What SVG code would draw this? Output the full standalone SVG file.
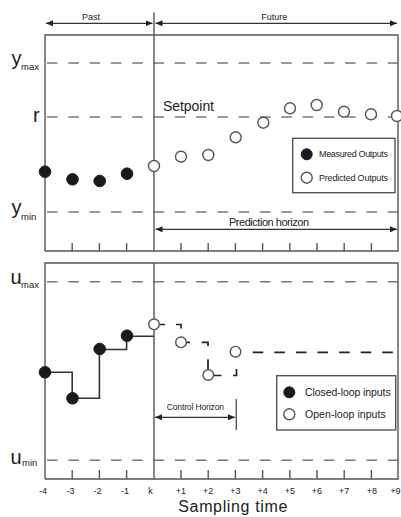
<svg xmlns="http://www.w3.org/2000/svg" width="401" height="517" viewBox="0 0 401 517">
<defs>
<marker id="ah" markerWidth="7" markerHeight="6" refX="7" refY="3" orient="auto-start-reverse" markerUnits="userSpaceOnUse"><path d="M0,0 L7,3 L0,6 z" fill="#222"/></marker>
<style>
.frame{stroke:#555;stroke-width:1.4;fill:none}
.grid{stroke:#777;stroke-width:1.4;stroke-dasharray:10.5 10.8;fill:none}
.arrow{stroke:#333;stroke-width:1.2;fill:none;marker-start:url(#ah);marker-end:url(#ah)}
.tick{stroke:#555;stroke-width:1.4}
.fill{fill:#1a1a1a;stroke:#1a1a1a;stroke-width:1}
.open{fill:#fff;stroke:#555;stroke-width:1.4}
.step{stroke:#333;stroke-width:1.6;fill:none}
.ol{stroke:#222;stroke-width:1.7;fill:none}
text{font-family:"Liberation Sans",Arial,sans-serif;fill:#222}
.big{font-size:20px}
.sub{font-size:9.5px}
.tl{font-size:9px;text-anchor:middle}
.sm{font-size:9px}
.lg{font-size:10.5px}
</style>
</defs>
<g id="top-panel">
<line class="grid" x1="47" y1="63" x2="398" y2="63"/>
<line class="grid" x1="47" y1="117" x2="398" y2="117"/>
<line class="grid" x1="47" y1="212" x2="398" y2="212"/>
<path class="frame" d="M45,251 V35 H398 V251 H45"/>
<line class="frame" x1="154" y1="12.5" x2="154" y2="251"/>
<path class="tick" d="M72.2,243V251M99.4,243V251M126.6,243V251M181,243V251M208.2,243V251M235.4,243V251M262.6,243V251M289.8,243V251M317,243V251M344.2,243V251M371.4,243V251"/>
<text class="big" x="11.5" y="64.5">y</text><text class="sub" x="21" y="70">max</text>
<text class="big" x="33" y="121.5">r</text>
<text class="big" x="11.5" y="213.5">y</text><text class="sub" x="21" y="220">min</text>
<text x="163" y="110.5" style="font-size:14px" textLength="51">Setpoint</text>
</g>
<g id="bottom-panel">
<line class="grid" x1="47" y1="281.7" x2="398" y2="281.7"/>
<line class="grid" x1="47" y1="460.3" x2="398" y2="460.3"/>
<path class="frame" d="M45,479 V263 H398 V479 H45"/>
<line class="frame" x1="154" y1="263" x2="154" y2="479"/>
<path class="tick" d="M72.2,470V479M99.4,470V479M126.6,470V479M181,470V479M208.2,470V479M235.4,470V479M262.6,470V479M289.8,470V479M317,470V479M344.2,470V479M371.4,470V479"/>
<text class="big" x="10.5" y="283.5">u</text><text class="sub" x="21" y="287.5">max</text>
<text class="big" x="10.5" y="463.5">u</text><text class="sub" x="22" y="466">min</text>
</g>
<g id="axis-labels">
<text class="tl" x="43" y="493.5">-4</text>
<text class="tl" x="70.5" y="493.5">-3</text>
<text class="tl" x="97.5" y="493.5">-2</text>
<text class="tl" x="125" y="493.5">-1</text>
<text class="tl" x="150.5" y="493.5">k</text>
<text class="tl" x="181" y="493.5">+1</text>
<text class="tl" x="208.2" y="493.5">+2</text>
<text class="tl" x="235.4" y="493.5">+3</text>
<text class="tl" x="262.6" y="493.5">+4</text>
<text class="tl" x="289.8" y="493.5">+5</text>
<text class="tl" x="317" y="493.5">+6</text>
<text class="tl" x="344.2" y="493.5">+7</text>
<text class="tl" x="372" y="493.5">+8</text>
<text class="tl" x="395.5" y="493.5">+9</text>
<text x="178.3" y="511.7" style="font-size:16px" textLength="109">Sampling time</text>
</g>
<g id="connectors">
<line class="arrow" x1="46" y1="23.3" x2="152.5" y2="23.3"/>
<line class="arrow" x1="155.5" y1="23.3" x2="397" y2="23.3"/>
<line class="arrow" x1="155.5" y1="229.3" x2="397" y2="229.3"/>
<line class="arrow" x1="155" y1="417.3" x2="235" y2="417.3"/>
<line class="frame" x1="236.3" y1="399" x2="236.3" y2="430"/>
<path class="step" d="M45,372.3 H72.2 V398.3 H99.4 V349.5 H126.6 V336.2 H154"/>
<path class="ol" d="M159.5,324.5H165M176,324.5H181V328.5M186,342.3H190M201.7,342.3H208V346M208,359.3V369.5M213.5,375.5H221.5M233,375.5H236.5V369"/>
<line class="ol" x1="252.7" y1="352.3" x2="398" y2="352.3" style="stroke-dasharray:10.6 11"/>
</g>
<g id="measured-outputs">
<circle class="fill" cx="45" cy="171.7" r="5.8"/>
<circle class="fill" cx="72.5" cy="179.3" r="5.8"/>
<circle class="fill" cx="99.7" cy="181" r="5.8"/>
<circle class="fill" cx="127" cy="173.7" r="5.8"/>
</g>
<g id="predicted-outputs">
<circle class="open" cx="154" cy="166" r="5.5"/>
<circle class="open" cx="181" cy="156.7" r="5.5"/>
<circle class="open" cx="208.3" cy="155" r="5.5"/>
<circle class="open" cx="235.7" cy="137.3" r="5.5"/>
<circle class="open" cx="263.3" cy="122.7" r="5.5"/>
<circle class="open" cx="290" cy="108.3" r="5.5"/>
<circle class="open" cx="316.7" cy="105" r="5.5"/>
<circle class="open" cx="344" cy="111.7" r="5.5"/>
<circle class="open" cx="371" cy="114.3" r="5.5"/>
<circle class="open" cx="397" cy="116" r="5.5"/>
</g>
<g id="closed-loop-inputs">
<circle class="fill" cx="45" cy="372.3" r="5.8"/>
<circle class="fill" cx="72.5" cy="398.3" r="5.8"/>
<circle class="fill" cx="99.7" cy="349" r="5.8"/>
<circle class="fill" cx="127" cy="335.7" r="5.8"/>
</g>
<g id="open-loop-inputs">
<circle class="open" cx="154" cy="324.3" r="5.3"/>
<circle class="open" cx="181" cy="342.3" r="5.3"/>
<circle class="open" cx="208.3" cy="375" r="5.3"/>
<circle class="open" cx="235.5" cy="351.7" r="5.3"/>
</g>
<g id="labels">
<text class="sm" x="91" y="20" text-anchor="middle">Past</text>
<text class="sm" x="274.3" y="20" text-anchor="middle">Future</text>
<text x="229" y="225.5" style="font-size:11px" textLength="80">Prediction horizon</text>
<text x="166.7" y="410" style="font-size:8.5px" textLength="57.3">Control Horizon</text>
</g>
<g id="legend-outputs">
<rect class="frame" x="292.7" y="138.3" width="102.3" height="54.4"/>
<circle class="fill" cx="306.7" cy="154.3" r="5.5"/>
<text x="319" y="157.3" style="font-size:9px" textLength="69">Measured Outputs</text>
<circle class="open" cx="306.7" cy="177.7" r="5.5"/>
<text x="319" y="181" style="font-size:9px" textLength="69">Predicted Outputs</text>
</g>
<g id="legend-inputs">
<rect class="frame" x="276.7" y="375.7" width="119" height="54.3"/>
<circle class="fill" cx="289.3" cy="392.3" r="5.5"/>
<text class="lg" x="305" y="395.7" textLength="85.7">Closed-loop inputs</text>
<circle class="open" cx="289.3" cy="414.3" r="5.5"/>
<text class="lg" x="305" y="417.5" textLength="80.7">Open-loop inputs</text>
</g>
</svg>
